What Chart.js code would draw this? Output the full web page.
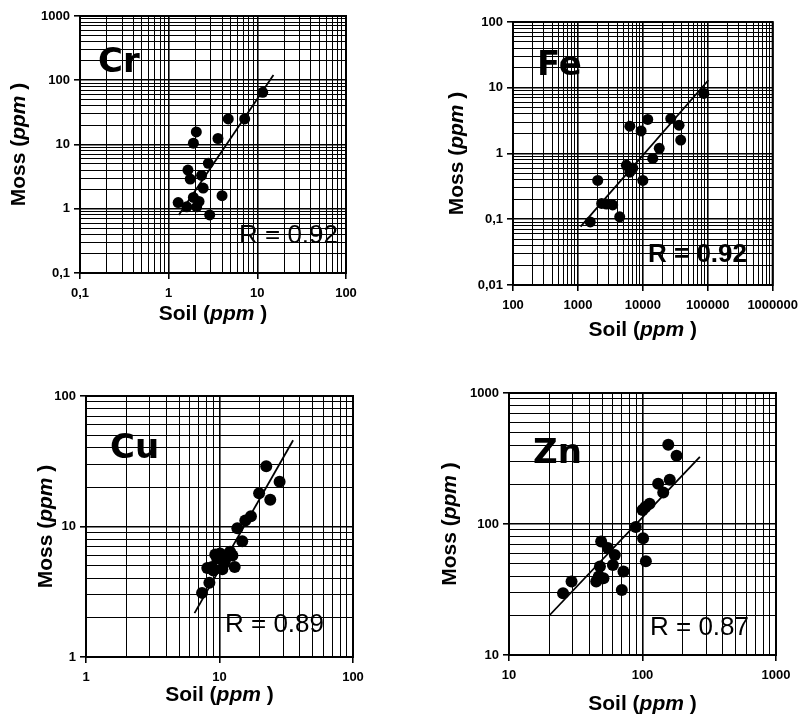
<!DOCTYPE html>
<html>
<head>
<meta charset="utf-8">
<script src="https://cdn.jsdelivr.net/npm/chart.js@4.4.0/dist/chart.umd.min.js"></script>
<style>
  body { margin: 0; background: #fff; }
  #wrap { position: relative; width: 805px; height: 715px; background: #fff; }
  #wrap canvas { position: absolute; }
</style>
</head>
<body>
<div id="wrap">
  <canvas id="cr-canvas" width="400" height="345" style="left:0;top:0"></canvas>
  <canvas id="fe-canvas" width="405" height="345" style="left:400px;top:0"></canvas>
  <canvas id="cu-canvas" width="400" height="345" style="left:0;top:370px"></canvas>
  <canvas id="zn-canvas" width="405" height="345" style="left:400px;top:370px"></canvas>
</div>
<script>
// Cr
var crSoil = [1.28, 1.6, 1.9, 2.07, 2.9, 4.0, 2.45, 1.75, 2.35, 1.65, 2.8, 1.9, 2.05, 3.6, 4.7, 7.2, 11.5, 2.2]
var crMoss = [1.25, 1.07, 1.5, 1.07, 0.8, 1.6, 2.1, 2.9, 3.3, 4.0, 5.1, 10.5, 15.7, 12.4, 25, 25, 65, 1.3]
var crFitSoil = [1.3, 15.2]
var crFitMoss = [0.8, 121]
var crXTicks = ['0,1', '1', '10', '100']
var crYTicks = ['0,1', '1', '10', '100', '1000']

// Fe
var feSoil = [87000, 6300, 11900, 9400, 26900, 36100, 38300, 17900, 14200, 5570, 6300, 7000, 10000, 2020, 2750, 3430, 2320, 4400, 1550]
var feMoss = [8.2, 2.6, 3.3, 2.2, 3.4, 2.7, 1.6, 1.2, 0.84, 0.66, 0.52, 0.6, 0.39, 0.39, 0.17, 0.165, 0.174, 0.109, 0.091]
var feFitSoil = [1100, 102000]
var feFitMoss = [0.077, 13]
var feXTicks = ['100', '1000', '10000', '100000', '1000000']
var feYTicks = ['0,01', '0,1', '1', '10', '100']

// Cu
var cuSoil = [22.4, 28.2, 24, 19.8, 17.2, 15.6, 13.6, 14.8, 10.1, 12.0, 8.8, 8.1, 13.0, 10.8, 9.6, 8.4, 7.4, 9.3, 11.0, 9.0, 10.5, 12.5]
var cuMoss = [29, 22, 16, 18, 12, 11.1, 9.7, 7.7, 6.2, 6.4, 4.9, 4.8, 4.9, 5.2, 5.7, 3.7, 3.1, 6.1, 5.5, 4.6, 4.7, 6.0]
var cuFitSoil = [6.5, 35.6]
var cuFitMoss = [2.17, 45.8]
var cuXTicks = ['1', '10', '100']
var cuYTicks = ['1', '10', '100']

// Zn
var znSoil = [156, 180, 160, 131, 143, 113, 100, 89, 101, 106, 49, 55, 62, 48, 60, 72, 47, 51, 45, 70, 29.4, 25.4, 105]
var znMoss = [403, 332, 218, 203, 174, 143, 128, 95, 78, 52, 73.5, 65.5, 58, 47.4, 48.6, 43.4, 39.7, 38.6, 36.4, 31.4, 36.4, 29.6, 135]
var znFitSoil = [20.2, 269]
var znFitMoss = [20.2, 325]
var znXTicks = ['10', '100', '1000']
var znYTicks = ['10', '100', '1000']

var xTitle = 'Soil'
var yTitle = 'Moss'
var unit = 'ppm'

function pts(xs, ys) {
  return xs.map(function (x, i) { return { x: x, y: ys[i] } })
}

function logAxis(min, max, labels, size, isX) {
  var lo = Math.round(Math.log10(min))
  var hi = Math.round(Math.log10(max))
  return {
    type: 'logarithmic',
    position: isX ? 'bottom' : 'left',
    min: min,
    max: max,
    afterBuildTicks: function (s) {
      var t = []
      for (var e = lo; e < hi; e++) {
        for (var m = 1; m <= 9; m++) {
          t.push({ value: Number((m * Math.pow(10, e)).toPrecision(6)), major: m == 1 })
        }
      }
      t.push({ value: max, major: true })
      s.ticks = t
    },
    afterFit: function (s) {
      if (isX) s.height = size
      else s.width = size
    },
    ticks: {
      autoSkip: false,
      maxRotation: 0,
      minRotation: 0,
      padding: isX ? 7 : 4,
      color: '#000',
      font: { family: 'Liberation Sans', weight: 'bold', size: 13 },
      callback: function (v) {
        var l = Math.log10(v), r = Math.round(l)
        return Math.abs(l - r) < 1e-6 ? labels[r - lo] : ''
      }
    },
    grid: {
      color: '#000',
      lineWidth: function (c) { return c.tick && c.tick.major ? 1.6 : 1 },
      tickLength: 6,
      tickColor: function (c) { return c.tick && c.tick.major ? '#000' : 'rgba(0,0,0,0)' }
    },
    border: { color: '#000', width: 2 }
  }
}

function drawTitle(ctx, name, cx, cy, rot) {
  var size = 21
  var parts = [
    [name + ' (', 'bold ' + size + 'px "Liberation Sans"'],
    [unit, 'italic bold ' + size + 'px "Liberation Sans"'],
    [' )', 'bold ' + size + 'px "Liberation Sans"']
  ]
  var w = 0
  parts.forEach(function (p) { ctx.font = p[1]; w += ctx.measureText(p[0]).width })
  ctx.save()
  ctx.translate(cx, cy)
  ctx.rotate(rot)
  ctx.textBaseline = 'middle'
  ctx.textAlign = 'left'
  var x = -w / 2
  parts.forEach(function (p) {
    ctx.font = p[1]
    ctx.fillText(p[0], x, 0)
    x += ctx.measureText(p[0]).width
  })
  ctx.restore()
}

var panelText = {
  id: 'panelText',
  afterDatasetsDraw: function (chart, args, o) {
    var ctx = chart.ctx, a = chart.chartArea
    ctx.save()
    ctx.strokeStyle = '#000'
    ctx.lineWidth = 2
    ctx.strokeRect(a.left, a.top, a.right - a.left, a.bottom - a.top)
    ctx.fillStyle = '#000'
    ctx.textAlign = 'left'
    ctx.textBaseline = 'alphabetic'
    ctx.font = 'bold 34px "DejaVu Sans"'
    ctx.fillText(o.element, o.elX, o.elY)
    ctx.font = (o.rBold ? 'bold ' : '') + '26px "Liberation Sans"'
    ctx.fillText(o.r, o.rX, o.rY)
    drawTitle(ctx, xTitle, (a.left + a.right) / 2, a.bottom + o.xTitleDy, 0)
    drawTitle(ctx, yTitle, o.yTitleX, (a.top + a.bottom) / 2, -Math.PI / 2)
    ctx.restore()
  }
}

function makePanel(id, soil, moss, fitSoil, fitMoss, xr, yr, xTicks, yTicks, lay, txt) {
  var ctx = document.getElementById(id).getContext('2d')
  return new Chart(ctx, {
    type: 'scatter',
    data: {
      datasets: [
        {
          label: 'data',
          data: pts(soil, moss),
          backgroundColor: '#000',
          borderColor: '#000',
          borderWidth: 0,
          pointRadius: lay.r
        },
        {
          label: 'fit',
          data: pts(fitSoil, fitMoss),
          showLine: true,
          borderColor: '#000',
          borderWidth: 1.8,
          pointRadius: 0
        }
      ]
    },
    options: {
      responsive: false,
      animation: false,
      devicePixelRatio: 1,
      layout: { padding: { top: lay.top, right: lay.right, left: 0, bottom: 0 } },
      scales: {
        x: logAxis(xr[0], xr[1], xTicks, lay.xh, true),
        y: logAxis(yr[0], yr[1], yTicks, lay.yw, false)
      },
      plugins: {
        legend: { display: false },
        tooltip: { enabled: false },
        panelText: txt
      }
    },
    plugins: [panelText]
  })
}

var crChart = makePanel('cr-canvas', crSoil, crMoss, crFitSoil, crFitMoss, [0.1, 100], [0.1, 1000], crXTicks, crYTicks,
  { top: 16, right: 54, xh: 72, yw: 80, r: 5.5 },
  { element: 'Cr', elX: 98, elY: 72, r: 'R = 0.92', rX: 239, rY: 243, xTitleDy: 41, yTitleX: 19 })

var feChart = makePanel('fe-canvas', feSoil, feMoss, feFitSoil, feFitMoss, [100, 1000000], [0.01, 100], feXTicks, feYTicks,
  { top: 22, right: 28, xh: 60, yw: 113, r: 5.5 },
  { element: 'Fe', elX: 137, elY: 75, r: 'R = 0.92', rBold: true, rX: 248, rY: 262, xTitleDy: 45, yTitleX: 57 })

var cuChart = makePanel('cu-canvas', cuSoil, cuMoss, cuFitSoil, cuFitMoss, [1, 100], [1, 100], cuXTicks, cuYTicks,
  { top: 26, right: 47, xh: 58, yw: 86, r: 6 },
  { element: 'Cu', elX: 110, elY: 88, r: 'R = 0.89', rX: 225, rY: 262, xTitleDy: 38, yTitleX: 46 })

var znChart = makePanel('zn-canvas', znSoil, znMoss, znFitSoil, znFitMoss, [10, 1000], [10, 1000], znXTicks, znYTicks,
  { top: 23, right: 29, xh: 60, yw: 109, r: 6 },
  { element: 'Zn', elX: 133, elY: 93, r: 'R = 0.87', rX: 250, rY: 265, xTitleDy: 49, yTitleX: 50 })
</script>
</body>
</html>
